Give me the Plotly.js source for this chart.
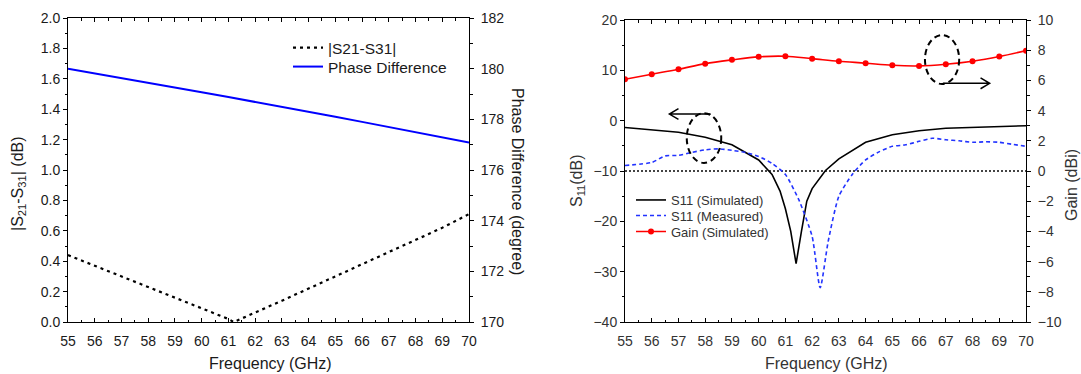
<!DOCTYPE html>
<html>
<head>
<meta charset="utf-8">
<script src="https://cdn.plot.ly/plotly-3.0.1.min.js"></script>
<style>html,body{margin:0;padding:0;background:#fff;}#chart{width:1081px;height:374px;}</style>
</head>
<body>
<div id="chart"></div>
<script>
// ---- Left chart data ----
const ampFreq = [55,56,57,58,59,60,61,61.2,62,63,64,65,66,67,68,69,70];
const ampDiff = [0.44,0.37,0.30,0.23,0.16,0.09,0.02,0.0,0.06,0.14,0.22,0.30,0.38,0.46,0.54,0.62,0.71];
const phaseFreq = [55,56,57,58,59,60,61,62,63,64,65,66,67,68,69,70];
const phaseDiff = [180.0,179.82,179.63,179.45,179.26,179.07,178.88,178.69,178.5,178.3,178.1,177.9,177.7,177.5,177.3,177.08];

// ---- Right chart data ----
const simFreq = [55,56,57,58,59,60,60.5,60.8,61,61.2,61.4,61.6,61.8,62,62.5,63,64,65,66,67,68,69,70];
const s11Sim = [-1.35,-1.8,-2.3,-3.3,-4.8,-7.8,-10.7,-14,-17.5,-22,-28.4,-22,-16,-13.5,-9.9,-7.6,-4.3,-2.8,-2.0,-1.5,-1.3,-1.15,-1.0];
const measFreq = [55,56,56.5,57,57.5,58,58.5,59,59.5,60,60.5,61,61.5,62,62.3,62.6,63,63.5,64,64.5,65,65.5,66,66.5,67,67.5,68,68.5,69,69.5,70];
const s11Meas = [-8.9,-8.3,-7.0,-6.9,-6.3,-5.8,-5.6,-5.9,-6.3,-7.1,-8.5,-10.7,-15.7,-23,-33.2,-24,-15,-10.7,-7.8,-6.2,-5.1,-4.8,-4.1,-3.5,-3.8,-4.0,-4.3,-4.2,-4.3,-4.7,-5.1];
const gainFreq = [55,56,57,58,59,60,61,62,63,64,65,66,67,68,69,70];
const gainSim = [6.08,6.41,6.74,7.11,7.36,7.56,7.6,7.44,7.27,7.14,7.0,6.96,7.07,7.27,7.58,7.97];
const refFreq = [55,70];
const refLevel = [-10,-10];

const FONT = 'Liberation Sans, Arial, sans-serif';
const W = 1081, H = 374;
const px = v => v / W;
const py = v => 1 - v / H;

const traces = [
  {x: ampFreq, y: ampDiff, name: '|S21-S31|', type: 'scatter', mode: 'lines',
   line: {color: '#000', width: 2.2, dash: '3px,4px'}, xaxis: 'x', yaxis: 'y', legend: 'legend'},
  {x: phaseFreq, y: phaseDiff, name: 'Phase Difference', type: 'scatter', mode: 'lines',
   line: {color: '#0000ff', width: 2}, xaxis: 'x', yaxis: 'y2', legend: 'legend5'},
  {x: refFreq, y: refLevel, type: 'scatter', mode: 'lines', showlegend: false, hoverinfo: 'skip',
   line: {color: '#444', width: 2, dash: '2px,2px'}, xaxis: 'x2', yaxis: 'y3'},
  {x: simFreq, y: s11Sim, name: 'S11 (Simulated)', type: 'scatter', mode: 'lines',
   line: {color: '#000', width: 1.6}, xaxis: 'x2', yaxis: 'y3', legend: 'legend2'},
  {x: measFreq, y: s11Meas, name: 'S11 (Measured)', type: 'scatter', mode: 'lines',
   line: {color: '#2233ff', width: 1.6, dash: '4px,3px', shape: 'spline', smoothing: 0.6}, xaxis: 'x2', yaxis: 'y3', legend: 'legend3'},
  {x: gainFreq, y: gainSim, name: 'Gain (Simulated)', type: 'scatter', mode: 'lines+markers',
   line: {color: '#ff0000', width: 1.6, shape: 'spline'}, marker: {color: '#ff0000', size: 6},
   xaxis: 'x2', yaxis: 'y4', legend: 'legend4'}
];

const tickFont = {family: FONT, size: 14, color: '#1a1a1a'};
const tickFontR = {family: FONT, size: 14, color: '#333'};

function xAx(domain, anchor, font) {
  return {domain: domain, anchor: anchor, range: [55, 70], dtick: 1, tick0: 55,
    ticks: 'inside', ticklen: 4, tickwidth: 1, tickcolor: '#000', ticklabelstandoff: 6,
    minor: {dtick: 0.5, ticks: 'inside', ticklen: 2.5, tickcolor: '#000'},
    showline: true, linecolor: '#000', linewidth: 1, mirror: 'ticks',
    showgrid: false, zeroline: false, tickfont: font, fixedrange: true};
}
function yAx(domain, anchor, range, dtick, mdtick, fmt, font, extra) {
  const a = {domain: domain, anchor: anchor, range: range, dtick: dtick, tick0: range[0],
    ticks: 'outside', ticklen: 4, tickwidth: 1, tickcolor: '#000',
    minor: {dtick: mdtick, ticks: 'outside', ticklen: 2.5, tickcolor: '#000'},
    showline: true, linecolor: '#000', linewidth: 1,
    showgrid: false, zeroline: false, tickfont: font, fixedrange: true};
  if (fmt) a.tickformat = fmt;
  return Object.assign(a, extra || {});
}

const domLx = [px(68), px(469)], domRx = [px(625), px(1026)];
const domLy = [py(322), py(18)], domRy = [py(322), py(20)];

const annFont = {family: FONT, size: 16, color: '#1a1a1a'};
const annFontR = {family: FONT, size: 16, color: '#333'};

function leg(xPix, topPix, size, color) {
  return {x: px(xPix), y: py(topPix), xanchor: 'left', yanchor: 'top', bgcolor: 'rgba(0,0,0,0)',
    font: {family: FONT, size: size, color: color}, tracegroupgap: 0};
}

const layout = {
  width: W, height: H, autosize: false,
  margin: {l: 0, r: 0, t: 0, b: 0, pad: 0},
  paper_bgcolor: '#fff', plot_bgcolor: '#fff',
  font: {family: FONT, color: '#1a1a1a'},
  xaxis: xAx(domLx, 'y', tickFont),
  yaxis: yAx(domLy, 'x', [0, 2], 0.2, 0.1, '.1f', tickFont),
  yaxis2: yAx(domLy, 'x', [170, 182], 2, 1, null, tickFont, {overlaying: 'y', side: 'right', ticklabelstandoff: 4}),
  xaxis2: xAx(domRx, 'y3', tickFontR),
  yaxis3: yAx(domRy, 'x2', [-40, 20], 10, 5, null, tickFontR),
  yaxis4: yAx(domRy, 'x2', [-10, 10], 2, 1, null, tickFontR, {overlaying: 'y3', side: 'right', ticklabelstandoff: 4}),
  legend: leg(288, 31, 15.5, '#1a1a1a'),
  legend5: leg(288, 50, 15.5, '#1a1a1a'),
  legend2: leg(631, 185, 13, '#333'),
  legend3: leg(631, 200.5, 13, '#333'),
  legend4: leg(631, 216.5, 13, '#333'),
  annotations: [
    {text: 'Frequency (GHz)', xref: 'paper', yref: 'paper', x: px(270), y: py(363), showarrow: false, font: annFont, xanchor: 'center', yanchor: 'middle'},
    {text: '|S<sub>21</sub>-S<sub>31</sub>| (dB)', xref: 'paper', yref: 'paper', x: px(18), y: py(184), textangle: -90, showarrow: false, font: annFont, xanchor: 'center', yanchor: 'middle'},
    {text: 'Phase Difference (degree)', xref: 'paper', yref: 'paper', x: px(517), y: py(181), textangle: 90, showarrow: false, font: annFont, xanchor: 'center', yanchor: 'middle'},
    {text: 'Frequency (GHz)', xref: 'paper', yref: 'paper', x: px(826), y: py(363), showarrow: false, font: annFontR, xanchor: 'center', yanchor: 'middle'},
    {text: 'S<sub>11</sub>(dB)', xref: 'paper', yref: 'paper', x: px(578), y: py(181), textangle: -90, showarrow: false, font: annFontR, xanchor: 'center', yanchor: 'middle'},
    {text: 'Gain (dBi)', xref: 'paper', yref: 'paper', x: px(1071), y: py(185), textangle: -90, showarrow: false, font: annFontR, xanchor: 'center', yanchor: 'middle'}
  ],
  shapes: [
    {type: 'circle', xref: 'x2', yref: 'y3', x0: 57.31, x1: 58.6, y0: -8.4, y1: 1.5,
     line: {color: '#000', width: 2, dash: '6px,4px'}},
    {type: 'path', xref: 'x2', yref: 'y3', path: 'M 58.2,1.32 L 56.66,1.32 M 57.0,2.4 L 56.66,1.32 L 57.0,0.24',
     line: {color: '#000', width: 1.5}},
    {type: 'circle', xref: 'x2', yref: 'y3', x0: 66.22, x1: 67.5, y0: 7.28, y1: 17.0,
     line: {color: '#000', width: 2, dash: '6px,4px'}},
    {type: 'path', xref: 'x2', yref: 'y3', path: 'M 66.89,7.42 L 68.64,7.42 M 68.3,8.5 L 68.64,7.42 L 68.3,6.34',
     line: {color: '#000', width: 1.5}}
  ]
};

Plotly.newPlot('chart', traces, layout, {displayModeBar: false, staticPlot: true});
</script>
</body>
</html>
